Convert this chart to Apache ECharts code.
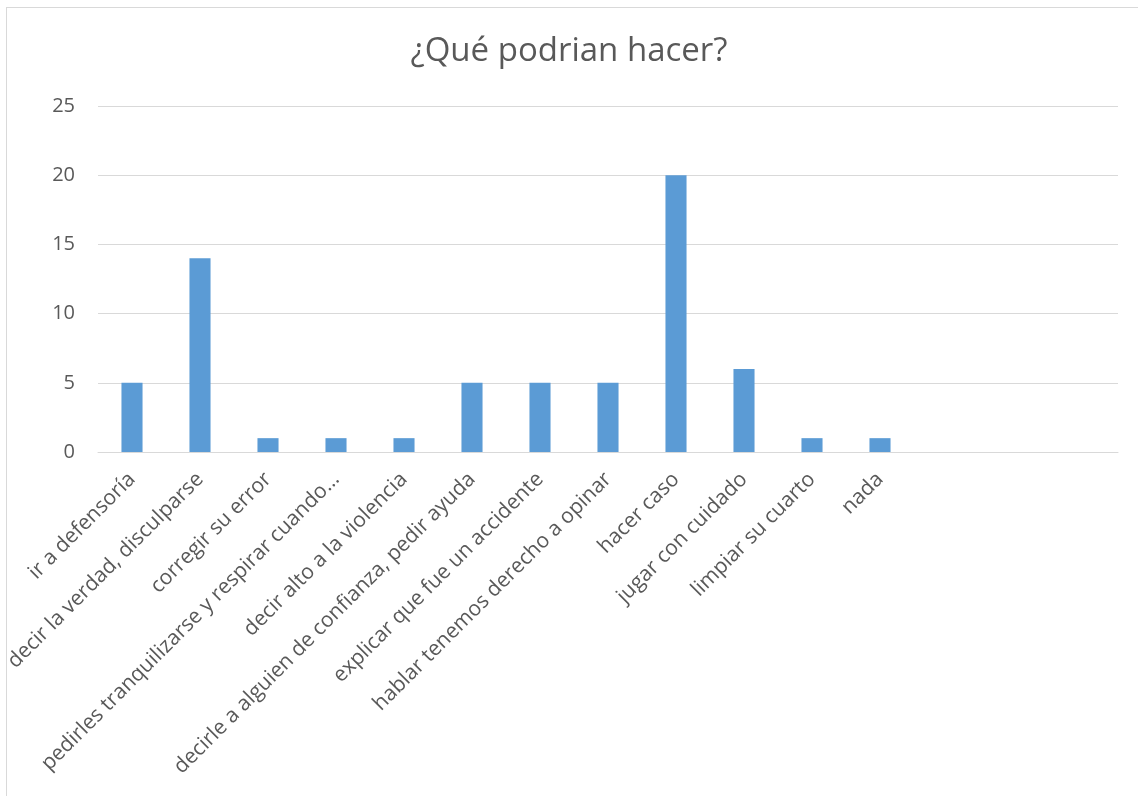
<!DOCTYPE html>
<html><head><meta charset="utf-8">
<script src="https://cdn.jsdelivr.net/npm/echarts@6/dist/echarts.min.js"></script>
<style>
html,body{margin:0;padding:0;background:#fff;overflow:hidden;}
#frame{position:absolute;left:6px;top:7px;width:1140px;height:800px;border:1px solid #d9d9d9;box-sizing:border-box;}
#c{position:absolute;left:0;top:0;width:1138px;height:796px;}
</style></head>
<body>
<div id="frame"></div>
<div id="c"></div>
<script>
const titleText = '¿Qué podrian hacer?';
const categories = ['ir a defensoría','decir la verdad, disculparse','corregir su error','pedirles tranquilizarse y respirar cuando…','decir alto a la violencia','decirle a alguien de confianza, pedir ayuda','explicar que fue un accidente','hablar tenemos derecho a opinar','hacer caso','jugar con cuidado','limpiar su cuarto','nada','','',''];
const values = [5,14,1,1,1,5,5,5,20,6,1,1,null,null,null];
const yTicks = [0,5,10,15,20,25];

const chart = echarts.init(document.getElementById('c'));
chart.setOption({
  animation:false,
  title:{text:titleText,left:'center',top:30,textStyle:{fontFamily:'Open Sans',fontWeight:'normal',fontSize:33,color:'#595959'}},
  grid:{left:98,right:20,top:106,bottom:344,containLabel:false},
  xAxis:{type:'category',data:categories,
    axisLine:{lineStyle:{color:'#d9d9d9',width:1}},axisTick:{show:false},
    axisLabel:{interval:0,rotate:45,fontFamily:'Open Sans',fontSize:21,color:'#595959',margin:24}},
  yAxis:{type:'value',min:yTicks[0],max:yTicks[yTicks.length-1],interval:5,
    axisLine:{show:false},axisTick:{show:false},
    splitLine:{lineStyle:{color:'#d9d9d9',width:1}},
    axisLabel:{fontFamily:'Open Sans',fontSize:20,color:'#595959',margin:23}},
  series:[{type:'bar',data:values,barWidth:'31%',itemStyle:{color:'#5b9bd5'}}]
});
</script>
</body></html>
